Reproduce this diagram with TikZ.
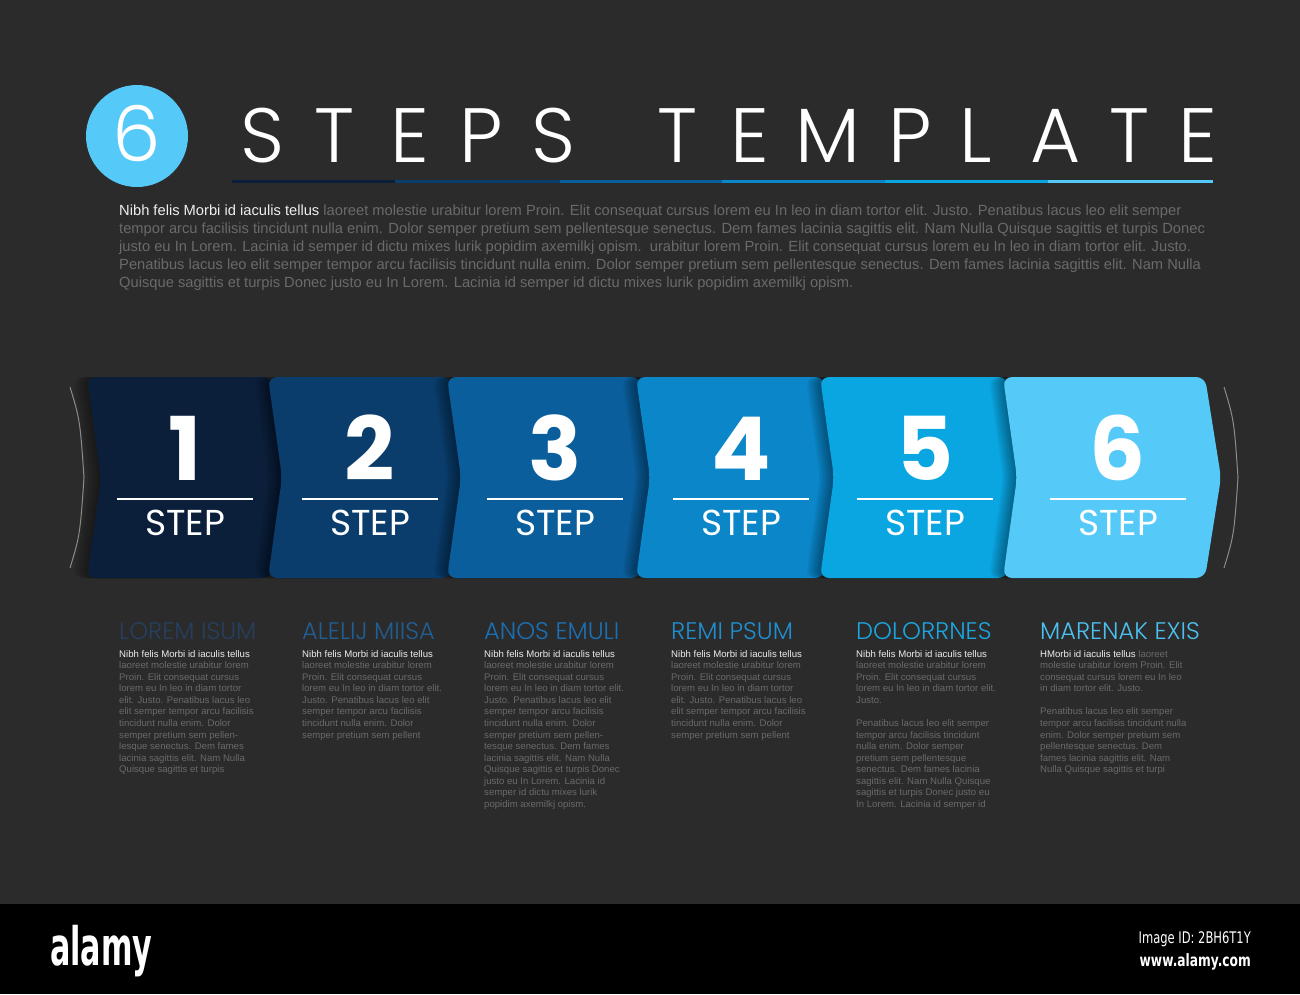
\documentclass[tikz,border=0pt]{standalone}
\usepackage{fontspec}
\setmainfont{Liberation Sans}
\newfontfamily\headfont{Poppins}
\newfontfamily\thinfont{Poppins Light}
\newfontfamily\brandfont{DejaVu Sans}
\usetikzlibrary{calc}

\definecolor{Backdrop}{HTML}{2B2B2B}
\definecolor{StepOne}{HTML}{0B1F3B}
\definecolor{StepTwo}{HTML}{0A3D6B}
\definecolor{StepThree}{HTML}{0A5E9C}
\definecolor{StepFour}{HTML}{0A86C9}
\definecolor{StepFive}{HTML}{0AA6E2}
\definecolor{StepSix}{HTML}{55C9F7}
\definecolor{HeadOne}{HTML}{263F5E}
\definecolor{HeadTwo}{HTML}{215E92}
\definecolor{HeadThree}{HTML}{1A70B5}
\definecolor{HeadFour}{HTML}{1F8FD2}
\definecolor{HeadFive}{HTML}{1BA6E0}
\definecolor{HeadSix}{HTML}{4CC0EE}
\definecolor{TextGray}{HTML}{6A6A6A}
\definecolor{LeadWhite}{HTML}{EEEEEE}
\definecolor{EdgeGray}{HTML}{8C8C8C}

\tikzset{
	stepbox/.style={rounded corners=9pt},
	titletext/.style={anchor=base, inner sep=0pt, text=white, font=\thinfont\fontsize{77}{77}\selectfont},
	numtext/.style={anchor=base, inner sep=0pt, text=white, font=\headfont\bfseries\fontsize{88}{88}\selectfont},
	steptext/.style={anchor=base, inner sep=0pt, text=white, font=\headfont\fontsize{36}{36}\selectfont},
	headtext/.style={anchor=base west, inner sep=0pt, font=\thinfont\fontsize{24}{24}\selectfont},
	bodytext/.style={anchor=north west, inner sep=0pt, align=left, text=TextGray, font=\fontsize{9.6}{11.55}\selectfont},
	introtext/.style={anchor=north west, inner sep=0pt, align=left, text=TextGray, font=\fontsize{14.7}{18}\selectfont}
}

\begin{document}
\begin{tikzpicture}[x=1pt,y=-1pt]
		\fill[Backdrop] (0,0) rectangle (1300,994);% Page background
		\useasboundingbox (0,0) rectangle (1300,994);

		% Title with the badge
		\node[circle, fill=StepSix, minimum size=102pt, inner sep=0pt] (Badge) at (137,136) {};
		\node[titletext] (BadgeNum) at (137,161) {6};
		\foreach \ch/\x [count=\i] in {S/263,T/335,E/410,P/481,S/554,T/678,E/750,M/828,P/910,L/976,A/1056,T/1130,E/1198}{
			\node[titletext] (Letter\i) at (\x,162) {\ch};
		}
		\foreach \a/\b/\col in {232/395/StepOne,395/560/StepTwo,560/722/StepThree,722/885/StepFour,885/1048/StepFive,1048/1213/StepSix}{
			\draw[\col, line width=3pt] (\a,181) -- (\b,181);% Coloured rule under the title
		}

		\node[introtext] (Intro) at (119,204.3) {\textcolor{LeadWhite}{Nibh felis Morbi id iaculis tellus} laoreet molestie urabitur lorem Proin. Elit consequat cursus lorem eu In leo in diam tortor elit. Justo. Penatibus lacus leo elit semper\\
		tempor arcu facilisis tincidunt nulla enim. Dolor semper pretium sem pellentesque senectus. Dem fames lacinia sagittis elit. Nam Nulla Quisque sagittis et turpis Donec\\
		justo eu In Lorem. Lacinia id semper id dictu mixes lurik popidim axemilkj opism.\ \ urabitur lorem Proin. Elit consequat cursus lorem eu In leo in diam tortor elit. Justo.\\
		Penatibus lacus leo elit semper tempor arcu facilisis tincidunt nulla enim. Dolor semper pretium sem pellentesque senectus. Dem fames lacinia sagittis elit. Nam Nulla\\
		Quisque sagittis et turpis Donec justo eu In Lorem. Lacinia id semper id dictu mixes lurik popidim axemilkj opism.};

		% Thin brackets at both ends of the row
		\draw[EdgeGray, line width=1pt] (70,387) .. controls (80,420) .. (84,477.5) .. controls (80,535) .. (70,568);
		\draw[EdgeGray, line width=1pt] (1224,387) .. controls (1234,420) .. (1238,477.5) .. controls (1234,535) .. (1224,568);

		% The six steps, each one laid over the one before
		\foreach \L/\R/\cx/\col [count=\i] in {87/272/185/StepOne,268/451/370/StepTwo,447/640/555/StepThree,636/824/741/StepFour,820/1007/925/StepFive,1003/1205/1118/StepSix}{
			\foreach \s in {2,4,...,14}{% soft shadow on the step before
				\fill[black, opacity=0.06, stepbox, xshift=-\s pt] (\L,377) -- (\R,377) -- (\R+16,477.5) -- (\R,578) -- (\L,578) -- (\L+14,477.5) -- cycle;
			}
			\fill[\col, stepbox] (\L,377) -- (\R,377) -- (\R+16,477.5) -- (\R,578) -- (\L,578) -- (\L+14,477.5) -- cycle;
			\node[numtext] (Num\i) at (\cx,480) {\i};
			\coordinate (RuleLeft\i) at (\cx-68,499);
			\coordinate (RuleRight\i) at (\cx+68,499);
			\draw[white, line width=1.2pt] (RuleLeft\i) -- (RuleRight\i);
			\node[steptext] (Step\i) at (\cx,535) {STEP};
		}

		% Column headings
		\foreach \x/\col/\head [count=\i] in {119/HeadOne/LOREM ISUM,302/HeadTwo/ALELIJ MIISA,484/HeadThree/ANOS EMULI,671/HeadFour/REMI PSUM,856/HeadFive/DOLORRNES,1040/HeadSix/MARENAK EXIS}{
			\node[headtext, text=\col] (Head\i) at (\x,639) {\head};
		}

		% Column texts
		\node[bodytext] (Body1) at (119,650) {\textcolor{LeadWhite}{Nibh felis Morbi id iaculis tellus}\\
		laoreet molestie urabitur lorem\\ Proin. Elit consequat cursus\\ lorem eu In leo in diam tortor\\ elit. Justo. Penatibus lacus leo\\ elit semper tempor arcu facilisis\\ tincidunt nulla enim. Dolor\\ semper pretium sem pellen-\\ lesque senectus. Dem fames\\ lacinia sagittis elit. Nam Nulla\\ Quisque sagittis et turpis};
		\node[bodytext] (Body2) at (302,650) {\textcolor{LeadWhite}{Nibh felis Morbi id iaculis tellus}\\
		laoreet molestie urabitur lorem\\ Proin. Elit consequat cursus\\ lorem eu In leo in diam tortor elit.\\ Justo. Penatibus lacus leo elit\\ semper tempor arcu facilisis\\ tincidunt nulla enim. Dolor\\ semper pretium sem pellent};
		\node[bodytext] (Body3) at (484,650) {\textcolor{LeadWhite}{Nibh felis Morbi id iaculis tellus}\\
		laoreet molestie urabitur lorem\\ Proin. Elit consequat cursus\\ lorem eu In leo in diam tortor elit.\\ Justo. Penatibus lacus leo elit\\ semper tempor arcu facilisis\\ tincidunt nulla enim. Dolor\\ semper pretium sem pellen-\\ tesque senectus. Dem fames\\ lacinia sagittis elit. Nam Nulla\\ Quisque sagittis et turpis Donec\\ justo eu In Lorem. Lacinia id\\ semper id dictu mixes lurik\\ popidim axemilkj opism.};
		\node[bodytext] (Body4) at (671,650) {\textcolor{LeadWhite}{Nibh felis Morbi id iaculis tellus}\\
		laoreet molestie urabitur lorem\\ Proin. Elit consequat cursus\\ lorem eu In leo in diam tortor\\ elit. Justo. Penatibus lacus leo\\ elit semper tempor arcu facilisis\\ tincidunt nulla enim. Dolor\\ semper pretium sem pellent};
		\node[bodytext] (Body5) at (856,650) {\textcolor{LeadWhite}{Nibh felis Morbi id iaculis tellus}\\
		laoreet molestie urabitur lorem\\ Proin. Elit consequat cursus\\ lorem eu In leo in diam tortor elit.\\ Justo.\\[11.55pt] Penatibus lacus leo elit semper\\ tempor arcu facilisis tincidunt\\ nulla enim. Dolor semper\\ pretium sem pellentesque\\ senectus. Dem fames lacinia\\ sagittis elit. Nam Nulla Quisque\\ sagittis et turpis Donec justo eu\\ In Lorem. Lacinia id semper id};
		\node[bodytext] (Body6) at (1040,650) {\textcolor{LeadWhite}{HMorbi id iaculis tellus} laoreet\\
		molestie urabitur lorem Proin. Elit\\ consequat cursus lorem eu In leo\\ in diam tortor elit. Justo.\\[11.55pt] Penatibus lacus leo elit semper\\ tempor arcu facilisis tincidunt nulla\\ enim. Dolor semper pretium sem\\ pellentesque senectus. Dem\\ fames lacinia sagittis elit. Nam\\ Nulla Quisque sagittis et turpi};

		% Strip along the bottom
		\fill[black] (0,904) rectangle (1300,994);
		\node[anchor=base west, inner sep=0pt, text=white, font=\brandfont\bfseries\fontsize{53}{53}\selectfont] (Brand) at (50,965) {\scalebox{0.57}[1]{alamy}};
		\node[anchor=base east, inner sep=0pt, text=white, font=\brandfont\fontsize{16}{16}\selectfont] (ImageId) at (1251,943) {\scalebox{0.72}[1]{Image ID: 2BH6T1Y}};
		\node[anchor=base east, inner sep=0pt, text=white, font=\brandfont\bfseries\fontsize{17}{17}\selectfont] (Site) at (1251,966) {\scalebox{0.72}[1]{www.alamy.com}};
\end{tikzpicture}
\end{document}
